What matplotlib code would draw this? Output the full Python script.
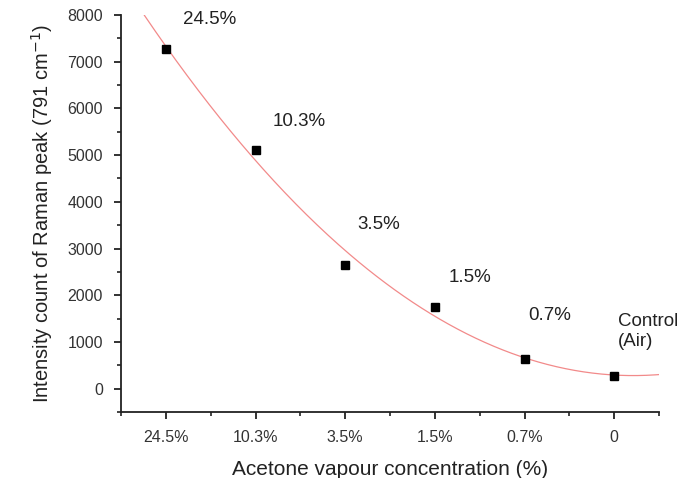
import numpy as np
import matplotlib
matplotlib.use("Agg")
import matplotlib.pyplot as plt
from matplotlib.ticker import MultipleLocator

plt.rcParams['font.family'] = ['Liberation Sans', 'DejaVu Sans']

# data
concentrations = ['24.5%', '10.3%', '3.5%', '1.5%', '0.7%', '0']
intensity = [7280, 5100, 2640, 1740, 640, 280]
point_labels = ['24.5%', '10.3%', '3.5%', '1.5%', '0.7%', 'Control\n(Air)']
label_x = [1.19, 2.19, 3.14, 4.15, 5.04, 6.04]
label_y = [7900, 5710, 3520, 2380, 1570, 1230]

pos = np.arange(1, len(concentrations) + 1)

fig = plt.figure(figsize=(6.82, 4.78), dpi=100)
ax = fig.add_axes([0.1774, 0.138, 0.789, 0.8306])

# second order polynomial fit through the points
coef = np.polyfit(pos, intensity, 2)
xs = np.linspace(0.5, 6.5, 300)
ys = np.polyval(coef, xs)
keep = ys <= 8000
ax.plot(xs[keep], ys[keep], color='#f28a8a', lw=0.9, zorder=2)

ax.plot(pos, intensity, 's', color='black', markersize=5.5, zorder=3)

for x, y, t in zip(label_x, label_y, point_labels):
    ax.text(x, y, t, fontsize=13.5, color='#222222', ha='left', va='center',
            linespacing=1.2)

ax.set_xlim(0.5, 6.5)
ax.set_ylim(-500, 8000)
ax.set_xticks(pos)
ax.set_xticklabels(concentrations)
ax.xaxis.set_minor_locator(MultipleLocator(0.5))
ax.yaxis.set_major_locator(MultipleLocator(1000))
ax.yaxis.set_minor_locator(MultipleLocator(500))

for side in ['top', 'right']:
    ax.spines[side].set_visible(False)
for side in ['left', 'bottom']:
    ax.spines[side].set_linewidth(1.3)
    ax.spines[side].set_color('#222222')

ax.tick_params(which='major', direction='out', length=5, width=1.3,
               labelsize=11.5, labelcolor='#333333', color='#222222', pad=8)
ax.tick_params(which='minor', direction='out', length=3, width=1.2, color='#222222')

ax.set_xlabel('Acetone vapour concentration (%)', fontsize=15, color='#222222', labelpad=11)
ax.set_ylabel('Intensity count of Raman peak (791 cm$^{-1}$)', fontsize=14.5,
              color='#222222', labelpad=9)

fig.savefig('out.png', dpi=100)
